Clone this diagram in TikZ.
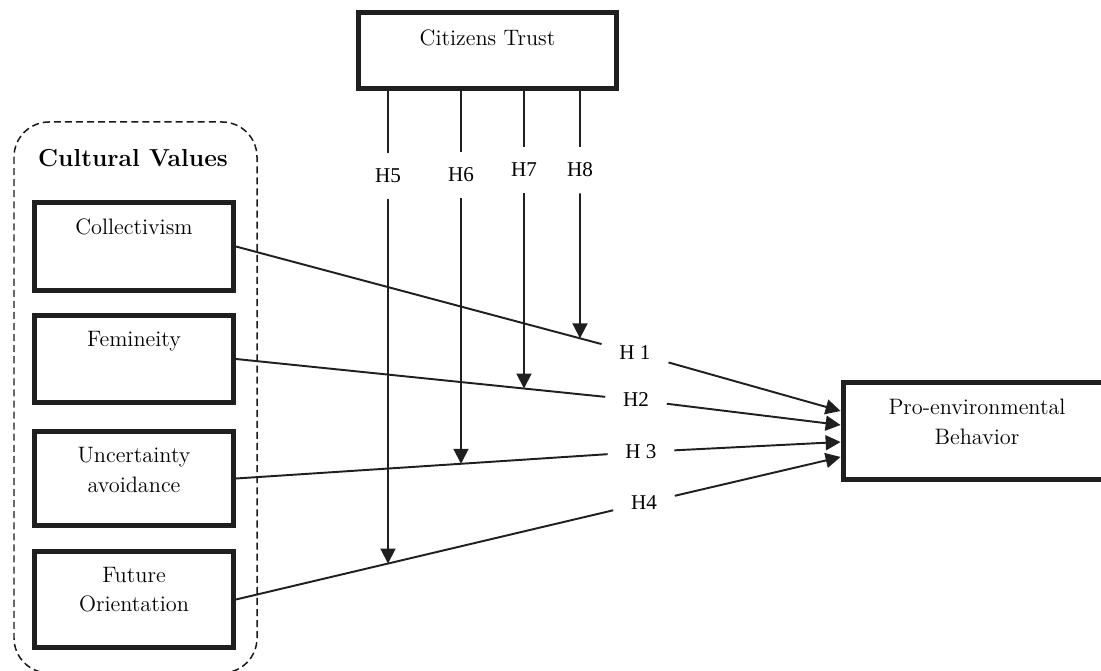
\documentclass[tikz,border=0pt]{standalone}
\usepackage{fontspec}
\newfontfamily\hypfont{Liberation Serif}
\usetikzlibrary{arrows.meta, intersections}
\tikzset{
    box/.style = {
      draw = black!88,
      line width = 2.8pt,
      align = center,
      text height = 9pt,
      minimum width = 3.98cm,
      font = \fontsize{12.7}{17}\selectfont
    },
    twoline/.style = {
      text height = 26pt
    },
    hyp/.style = {
      font = \hypfont\fontsize{12}{14}\selectfont,
      inner xsep = 10pt,
      inner ysep = 3pt
    },
    vhyp/.style = {
      hyp,
      inner xsep = 3pt,
      inner ysep = 9pt
    },
    group/.style = {
      draw = black!90,
      line width = 0.85pt,
      dash pattern = on 4pt off 2.3pt,
      rounded corners = 0.7cm
    },
    link/.style = {
      draw = black!88,
      line width = 1.1pt
    },
    -->/.style = {
      link,
      -{Triangle[length=8.5pt, width=8.5pt]}
    },
}

\begin{document}
\begin{tikzpicture}[x=0.02cm, y=-0.02cm]
    \useasboundingbox (0,0) rectangle (1101,671);

    % cultural values group
    \draw[group] (14,122) rectangle (257,673);
    \node[font=\fontsize{14}{16}\selectfont\bfseries] (TITLE) at (133,158) {Cultural Values};

    \node[box, minimum height=1.76cm, text depth=23pt] (COLL) at (134,246.5) {Collectivism};
    \node[box, minimum height=1.74cm, text depth=23pt] (FEM) at (134,359) {Femineity};
    \node[box, twoline, minimum height=1.88cm, text depth=10pt] (UNC) at (134,478.5) {Uncertainty\\avoidance};
    \node[box, twoline, minimum height=1.92cm, text depth=11.8pt] (FUT) at (134,599.5) {Future\\Orientation};

    \node[box, minimum width=5.16cm, minimum height=1.52cm, text depth=15pt] (TRUST) at (487.5,50.5) {Citizens Trust};
    \node[box, twoline, minimum width=5.36cm, minimum height=1.94cm, text depth=11pt] (PRO) at (977,431) {Pro-environmental\\Behavior};

    % hypotheses
    \node[hyp] (H1) at (635,353) {H 1};
    \node[hyp] (H2) at (636,400) {H2};
    \node[hyp] (H3) at (641,452) {H 3};
    \node[hyp] (H4) at (644,503) {H4};

    \node[vhyp] (H5) at (388,176) {H5};
    \node[vhyp] (H6) at (461,175) {H6};
    \node[vhyp] (H7) at (524,170) {H7};
    \node[vhyp] (H8) at (580,170) {H8};

    \coordinate (P1) at ([yshift=0.4cm]PRO.west);
    \coordinate (P2) at ([yshift=0.12cm]PRO.west);
    \coordinate (P3) at ([yshift=-0.22cm]PRO.west);
    \coordinate (P4) at ([yshift=-0.52cm]PRO.west);

    % direct effects
    \draw[link, name path=C1] (COLL.east) -- (H1);
    \draw[link, name path=C2] (FEM.east) -- (H2);
    \draw[link, name path=C3] (UNC.east) -- (H3);
    \draw[link, name path=C4] (FUT.east) -- (H4);

    \draw[-->] (H1) -- (P1);
    \draw[-->] (H2) -- (P2);
    \draw[-->] (H3) -- (P3);
    \draw[-->] (H4) -- (P4);

    % moderation by trust
    \path[name path=V5] (H5) -- ++(0,500);
    \path[name path=V6] (H6) -- ++(0,500);
    \path[name path=V7] (H7) -- ++(0,500);
    \path[name path=V8] (H8) -- ++(0,500);
    \path[name intersections={of=C4 and V5, by=T5}];
    \path[name intersections={of=C3 and V6, by=T6}];
    \path[name intersections={of=C2 and V7, by=T7}];
    \path[name intersections={of=C1 and V8, by=T8}];

    \draw[link] (TRUST.south -| H5) -- (H5);
    \draw[link] (TRUST.south -| H6) -- (H6);
    \draw[link] (TRUST.south -| H7) -- (H7);
    \draw[link] (TRUST.south -| H8) -- (H8);

    \draw[-->] (H5) -- (T5);
    \draw[-->] (H6) -- (T6);
    \draw[-->] (H7) -- (T7);
    \draw[-->] (H8) -- (T8);
\end{tikzpicture}
\end{document}
